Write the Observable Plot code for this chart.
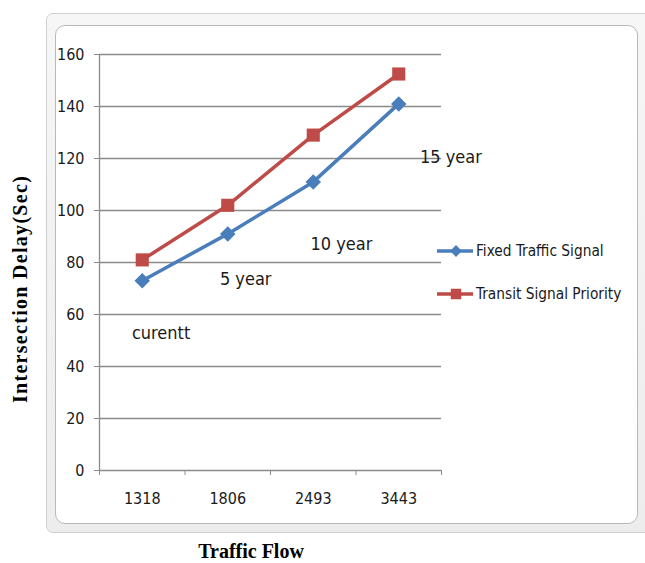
<!DOCTYPE html>
<html>
<head>
<meta charset="utf-8">
<script src="https://cdn.jsdelivr.net/npm/d3@7"></script>
<script src="https://cdn.jsdelivr.net/npm/@observablehq/plot@0.6"></script>
<style>
  body { margin: 0; background: #fff; }
  #wrap { position: relative; width: 645px; height: 563px; overflow: hidden; }
  .outer { position: absolute; left: 46px; top: 13px; width: 630px; height: 518px;
    border: 1px solid #cfcfcf; border-radius: 7px; background: linear-gradient(#f6f6f6, #ededed); }
  .inner { position: absolute; left: 55px; top: 25px; width: 581px; height: 497px;
    border: 1px solid #b9b9b9; border-radius: 10px; background: #fff; }
  #chart { position: absolute; left: 0; top: 0; }
  #legend { position: absolute; left: 0; top: 0; pointer-events: none; }
  .ytitle { position: absolute; left: 20px; top: 289px; transform: translate(-50%, -50%) rotate(-90deg);
    font-family: "Liberation Serif", "DejaVu Serif", serif; font-weight: bold; font-size: 20px;
    letter-spacing: 1.3px; white-space: nowrap; color: #000; }
  .xtitle { position: absolute; left: 251px; top: 551px; transform: translate(-50%, -50%);
    font-family: "Liberation Serif", "DejaVu Serif", serif; font-weight: bold; font-size: 20px;
    white-space: nowrap; color: #000; }
</style>
</head>
<body>
<div id="wrap">
  <div class="outer"></div>
  <div class="inner"></div>
  <div id="chart"></div>
  <svg id="legend" width="645" height="563"></svg>
  <div class="ytitle">Intersection Delay(Sec)</div>
  <div class="xtitle">Traffic Flow</div>
</div>
<script>
// ---- data ----
const flows = ["1318", "1806", "2493", "3443"];
const seriesNames = ["Fixed Traffic Signal", "Transit Signal Priority"];
const fixedSignal = [73, 91, 111, 141];
const transitPriority = [81, 102, 129, 152.5];
const yTicks = [0, 20, 40, 60, 80, 100, 120, 140, 160];
const annotationLabels = ["curentt", "5 year", "10 year", "15 year"];
const annotationX = [0.22, 1.21, 2.33, 3.61];   // position along the category index
const annotationY = [52.7, 73.5, 87, 120.4];

const colors = ["#4a7ebb", "#be4b48"];
const font = "'Liberation Sans Narrow', 'DejaVu Sans Condensed', 'Open Sans', sans-serif";

const toRows = (vals, s) => vals.map((v, i) => ({series: seriesNames[s], i, v}));
const fixedRows = toRows(fixedSignal, 0);
const transitRows = toRows(transitPriority, 1);
const notes = annotationLabels.map((t, k) => ({t, x: annotationX[k], y: annotationY[k]}));

const chart = Plot.plot({
  width: 645, height: 563,
  marginTop: 54, marginBottom: 93, marginLeft: 99, marginRight: 204,
  style: {background: "transparent", fontFamily: font, color: "#1a1a1a"},
  x: {domain: [-0.5, 3.5]},
  y: {domain: [0, 160]},
  marks: [
    Plot.ruleY(yTicks, {x1: -0.5, x2: 3.5, stroke: "#8a8a8a", strokeWidth: 1.3}),
    Plot.ruleX([-0.5], {y1: 0, y2: 160, stroke: "#8a8a8a", strokeWidth: 1.3}),
    Plot.axisY({ticks: yTicks, tickSize: 5, tickPadding: 10, stroke: "#8a8a8a", fontSize: 16, label: null}),
    Plot.axisX({ticks: [-0.5, 0.5, 1.5, 2.5, 3.5], tickSize: 5, tickFormat: () => "", stroke: "#8a8a8a", label: null}),
    Plot.axisX({ticks: [0, 1, 2, 3], tickSize: 0, tickPadding: 22, tickFormat: i => flows[i], fontSize: 16, label: null}),
    Plot.line(fixedRows, {x: "i", y: "v", stroke: colors[0], strokeWidth: 3.5}),
    Plot.line(transitRows, {x: "i", y: "v", stroke: colors[1], strokeWidth: 3.5}),
    Plot.dot(fixedRows, {x: "i", y: "v", symbol: "diamond2", fill: colors[0], stroke: "none", r: 7}),
    Plot.dot(transitRows, {x: "i", y: "v", symbol: "square", fill: colors[1], stroke: "none", r: 7.4}),
    Plot.text(notes, {x: "x", y: "y", text: "t", fontSize: 18, fill: "#1a1a1a"})
  ]
});
document.getElementById("chart").appendChild(chart);

// ---- legend ----
const lg = d3.select("#legend");
const legendY = [251, 294];
seriesNames.forEach((name, k) => {
  const g = lg.append("g").attr("transform", `translate(437,${legendY[k]})`);
  g.append("line").attr("x1", 0).attr("x2", 36).attr("stroke", colors[k]).attr("stroke-width", 3.5);
  g.append("path").attr("transform", "translate(19,0)")
    .attr("d", d3.symbol(k === 0 ? d3.symbolDiamond2 : d3.symbolSquare, k === 0 ? 90 : 110)())
    .attr("fill", colors[k]);
  g.append("text").attr("x", 39).attr("dy", "0.35em").text(name)
    .attr("font-family", font).attr("font-size", 15.3).attr("fill", "#1a1a1a");
});
</script>
</body>
</html>
